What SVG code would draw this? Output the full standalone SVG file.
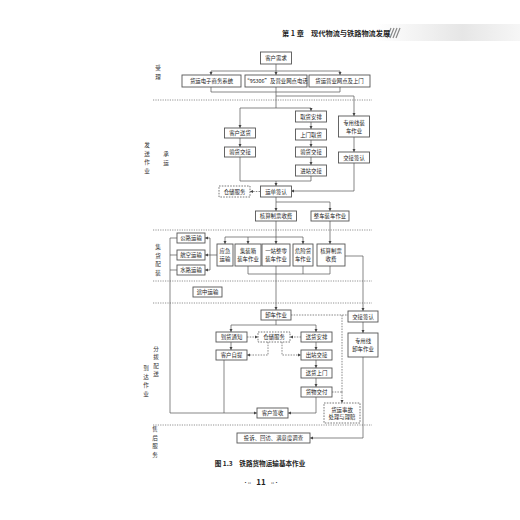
<svg xmlns="http://www.w3.org/2000/svg" width="520" height="520" viewBox="0 0 520 520">
<defs>
<marker id="ar" viewBox="0 0 6 6" refX="6" refY="3" markerWidth="3.2" markerHeight="3.2" markerUnits="userSpaceOnUse" orient="auto"><path d="M0,0 L6,3 L0,6 z" fill="#444"/></marker>
<linearGradient id="hg" x1="0" y1="0" x2="1" y2="0"><stop offset="0" stop-color="#ffffff"/><stop offset="0.6" stop-color="#e6e6e6"/><stop offset="1" stop-color="#f6f6f6"/></linearGradient>
</defs>
<style>
text{font-family:"Noto Sans CJK SC","Noto Sans",sans-serif;fill:#222}
.b{fill:#fff;stroke:#555;stroke-width:0.9}
.d{fill:#fff;stroke:#555;stroke-width:0.8;stroke-dasharray:1.6,1.2}
.t{font-size:5.4px;text-anchor:middle;dominant-baseline:central}
.l{font-size:5.6px;text-anchor:middle;dominant-baseline:central;fill:#333}
.c{fill:none;stroke:#555;stroke-width:0.7}
.ca{fill:none;stroke:#555;stroke-width:0.7;marker-end:url(#ar)}
.cd{fill:none;stroke:#555;stroke-width:0.7;stroke-dasharray:1.5,1.2}
.cda{fill:none;stroke:#555;stroke-width:0.7;stroke-dasharray:1.5,1.2;marker-end:url(#ar)}
.sep{fill:none;stroke:#777;stroke-width:0.8;stroke-dasharray:1.2,1.2}
</style>
<rect width="520" height="520" fill="#fff"/>
<rect x="375" y="24" width="145" height="17" fill="url(#hg)"/>
<g stroke="#888" stroke-width="1.2"><line x1="387" y1="38" x2="391" y2="28"/><line x1="390" y1="38" x2="394" y2="28"/><line x1="393" y1="38" x2="397" y2="28"/><line x1="396" y1="38" x2="400" y2="28"/></g>
<text x="282" y="35.5" style="font-size:7.2px;font-weight:bold" fill="#333">第 1 章　现代物流与铁路物流发展</text>

<g id="separators">
<line class="sep" x1="153" y1="100" x2="372" y2="100"/>
<line class="sep" x1="153" y1="230" x2="372" y2="230"/>
<line class="sep" x1="153" y1="281" x2="372" y2="281"/>
<line class="sep" x1="153" y1="303" x2="372" y2="303"/>
<line class="sep" x1="153" y1="425" x2="372" y2="425"/>
</g>

<g id="labels">
<text class="l" x="158" y="68">受</text><text class="l" x="158" y="77">理</text>
<text class="l" x="147" y="145">发</text><text class="l" x="147" y="153.5">送</text><text class="l" x="147" y="162">作</text><text class="l" x="147" y="170.5">业</text>
<text class="l" x="166" y="154">承</text><text class="l" x="166" y="163">运</text>
<text class="l" x="158" y="247">集</text><text class="l" x="158" y="255.5">货</text><text class="l" x="158" y="264">配</text><text class="l" x="158" y="272.5">装</text>
<text class="l" x="156" y="348.5">分</text><text class="l" x="156" y="357">拨</text><text class="l" x="156" y="365.5">配</text><text class="l" x="156" y="374">送</text>
<text class="l" x="146" y="368">到</text><text class="l" x="146" y="376.5">达</text><text class="l" x="146" y="385">作</text><text class="l" x="146" y="393.5">业</text>
<text class="l" x="155" y="429">售</text><text class="l" x="155" y="437.5">后</text><text class="l" x="155" y="446">服</text><text class="l" x="155" y="454.5">务</text>
</g>

<g id="connectors">
<path class="c" d="M276,64 V71 M211,71 H340"/>
<path class="ca" d="M211,71 V75"/><path class="ca" d="M276,71 V75"/><path class="ca" d="M340,71 V75"/>
<path class="c" d="M211,87 V92 M340,87 V92 M211,92 H340 M276,87 V108 M276,96 H354 M240,108 H311"/>
<path class="ca" d="M354,96 V116"/>
<path class="ca" d="M240,108 V128"/><path class="ca" d="M311,108 V111"/>
<path class="ca" d="M240,138 V147"/>
<path class="ca" d="M311,122 V129"/><path class="ca" d="M311,140 V147"/><path class="ca" d="M311,157 V165"/>
<path class="c" d="M240,157 V181 H311 V176"/>
<path class="ca" d="M276,181 V186"/>
<path class="ca" d="M354,137 V152"/>
<path class="ca" d="M354,163 V191 H291"/>
<path class="cda" d="M260,191.5 H250"/>
<path class="ca" d="M276,197 V211"/>
<path class="ca" d="M276,202 H330 V211"/>
<path class="c" d="M276,221 V237 M225,237 H303"/>
<path class="ca" d="M225,237 V244"/><path class="ca" d="M248,237 V244"/><path class="ca" d="M276,237 V244"/><path class="ca" d="M303,237 V244"/>
<path class="ca" d="M330,221 V244"/>
<path class="c" d="M248,266 V274 M303,266 V274 M330,266 V274 M248,274 H330"/>
<path class="ca" d="M276,266 V310"/>
<path class="ca" d="M345,256 H363 V311"/>
<path class="c" d="M217,255 H210 M210,238 V270"/>
<path class="ca" d="M210,238 H205"/><path class="ca" d="M210,255 H205"/><path class="ca" d="M210,270 H205"/>
<path class="c" d="M177,238 H170 M177,255 H170 M177,270 H170"/>
<path class="ca" d="M170,238 V413 H257"/>
<path class="cd" d="M291,315 H348 M342,315 V392"/>
<path class="cda" d="M342,392 V403"/>
<path class="cd" d="M332,392 H342"/>
<path class="c" d="M276,320 V325 M231,325 H316"/>
<path class="ca" d="M231,325 V332"/><path class="ca" d="M316,325 V332"/>
<path class="cda" d="M247,337 H258"/><path class="cda" d="M301,337 H290"/>
<path class="cda" d="M268,342 V355 H247"/><path class="cda" d="M282,342 V355 H301"/>
<path class="ca" d="M231,342 V350"/>
<path class="ca" d="M316,342 V350"/><path class="ca" d="M316,360 V368"/><path class="ca" d="M316,378 V387"/>
<path class="c" d="M224,360 V413"/>
<path class="ca" d="M316,397 V413 H288"/>
<path class="ca" d="M363,322 V333"/>
<path class="ca" d="M363,357 V438 H310"/>
</g>

<g id="n1"><rect class="b" x="260.5" y="52" width="31" height="12"/><text class="t" x="276" y="58">客户需求</text></g>
<g id="n2"><rect class="b" x="182" y="75" width="59" height="12"/><text class="t" x="211.5" y="81">货运电子商务系统</text></g>
<g id="n3"><rect class="b" x="245" y="75" width="62" height="12"/><text class="t" x="276" y="81">“95306”及营业网点电话</text></g>
<g id="n4"><rect class="b" x="309" y="75" width="61" height="12"/><text class="t" x="339.5" y="81">货运营业网点及上门</text></g>
<g id="n5"><rect class="b" x="224.5" y="128" width="31" height="10"/><text class="t" x="240" y="133">客户送货</text></g>
<g id="n6"><rect class="b" x="224.5" y="147" width="31" height="10"/><text class="t" x="240" y="152">验货交接</text></g>
<g id="n7"><rect class="b" x="295.5" y="111" width="31" height="11"/><text class="t" x="311" y="116.5">取货安排</text></g>
<g id="n8"><rect class="b" x="295.5" y="129" width="31" height="11"/><text class="t" x="311" y="134.5">上门取货</text></g>
<g id="n9"><rect class="b" x="295.5" y="147" width="31" height="10"/><text class="t" x="311" y="152">验货交接</text></g>
<g id="n10"><rect class="b" x="295.5" y="165" width="31" height="11"/><text class="t" x="311" y="170.5">进站交接</text></g>
<g id="n11"><rect class="b" x="338.5" y="116" width="31" height="21"/><text class="t" x="354" y="122.5">专用线装</text><text class="t" x="354" y="130.5">车作业</text></g>
<g id="n12"><rect class="b" x="338.5" y="152" width="31" height="11"/><text class="t" x="354" y="157.5">交接签认</text></g>
<g id="n13"><rect class="d" x="219" y="186" width="31" height="11"/><text class="t" x="234.5" y="191.5">仓储服务</text></g>
<g id="n14"><rect class="b" x="260.5" y="186" width="31" height="11"/><text class="t" x="276" y="191.5">运单签认</text></g>
<g id="n15"><rect class="b" x="255.5" y="211" width="41" height="10"/><text class="t" x="276" y="216">核算制票收费</text></g>
<g id="n16"><rect class="b" x="311" y="211" width="38" height="10"/><text class="t" x="330" y="216">整车装车作业</text></g>
<g id="n17"><rect class="b" x="217" y="244" width="16" height="22"/><text class="t" x="225" y="251">应急</text><text class="t" x="225" y="259">运输</text></g>
<g id="n18"><rect class="b" x="235" y="244" width="26" height="22"/><text class="t" x="248" y="251">集装箱</text><text class="t" x="248" y="259">装车作业</text></g>
<g id="n19"><rect class="b" x="262" y="244" width="28" height="22"/><text class="t" x="276" y="251">一站整零</text><text class="t" x="276" y="259">装车作业</text></g>
<g id="n20"><rect class="b" x="293" y="244" width="20" height="22"/><text class="t" x="303" y="251">危险货</text><text class="t" x="303" y="259">车作业</text></g>
<g id="n21"><rect class="b" x="317" y="244" width="28" height="22"/><text class="t" x="331" y="251">核算制票</text><text class="t" x="331" y="259">收费</text></g>
<g id="n22"><rect class="b" x="177" y="233" width="28" height="10"/><text class="t" x="191" y="238">公路运输</text></g>
<g id="n23"><rect class="b" x="177" y="250" width="28" height="10"/><text class="t" x="191" y="255">航空运输</text></g>
<g id="n24"><rect class="b" x="177" y="265" width="28" height="10"/><text class="t" x="191" y="270">水路运输</text></g>
<g id="n25"><rect class="b" x="193" y="287" width="29" height="10"/><text class="t" x="207.5" y="292">途中运输</text></g>
<g id="n26"><rect class="b" x="261" y="310" width="30" height="10"/><text class="t" x="276" y="315">卸车作业</text></g>
<g id="n27"><rect class="b" x="348" y="311" width="30" height="11"/><text class="t" x="363" y="316.5">交接签认</text></g>
<g id="n28"><rect class="b" x="216" y="332" width="31" height="10"/><text class="t" x="231.5" y="337">到货通知</text></g>
<g id="n29"><rect class="d" x="258" y="332" width="32" height="10"/><text class="t" x="274" y="337">仓储服务</text></g>
<g id="n30"><rect class="b" x="301" y="332" width="31" height="10"/><text class="t" x="316.5" y="337">送货安排</text></g>
<g id="n31"><rect class="b" x="216" y="350" width="31" height="10"/><text class="t" x="231.5" y="355">客户自提</text></g>
<g id="n32"><rect class="b" x="301" y="350" width="31" height="10"/><text class="t" x="316.5" y="355">出站交接</text></g>
<g id="n33"><rect class="b" x="301" y="368" width="31" height="10"/><text class="t" x="316.5" y="373">送货上门</text></g>
<g id="n34"><rect class="b" x="301" y="387" width="31" height="10"/><text class="t" x="316.5" y="392">货物交付</text></g>
<g id="n35"><rect class="b" x="348" y="333" width="30" height="24"/><text class="t" x="363" y="341">专用线</text><text class="t" x="363" y="349">卸车作业</text></g>
<g id="n36"><rect class="b" x="257" y="408" width="31" height="10"/><text class="t" x="272.5" y="413">客户签收</text></g>
<g id="n37"><rect class="d" x="324" y="403" width="36" height="20"/><text class="t" x="342" y="409.5">货运事故</text><text class="t" x="342" y="417">处理与理赔</text></g>
<g id="n38"><rect class="b" x="237" y="433" width="73" height="10"/><text class="t" x="273.5" y="438">投诉、回访、满意度调查</text></g>

<text x="260" y="463" style="font-size:6.6px;font-weight:bold;text-anchor:middle;dominant-baseline:central">图 1.3　铁路货物运输基本作业</text>
<text x="251" y="481" style="font-size:5px;text-anchor:end;dominant-baseline:central" fill="#666">·‹‹</text>
<text x="261" y="481" style="font-size:8px;font-weight:bold;text-anchor:middle;dominant-baseline:central">11</text>
<text x="271" y="481" style="font-size:5px;dominant-baseline:central" fill="#666">››·</text>
</svg>
